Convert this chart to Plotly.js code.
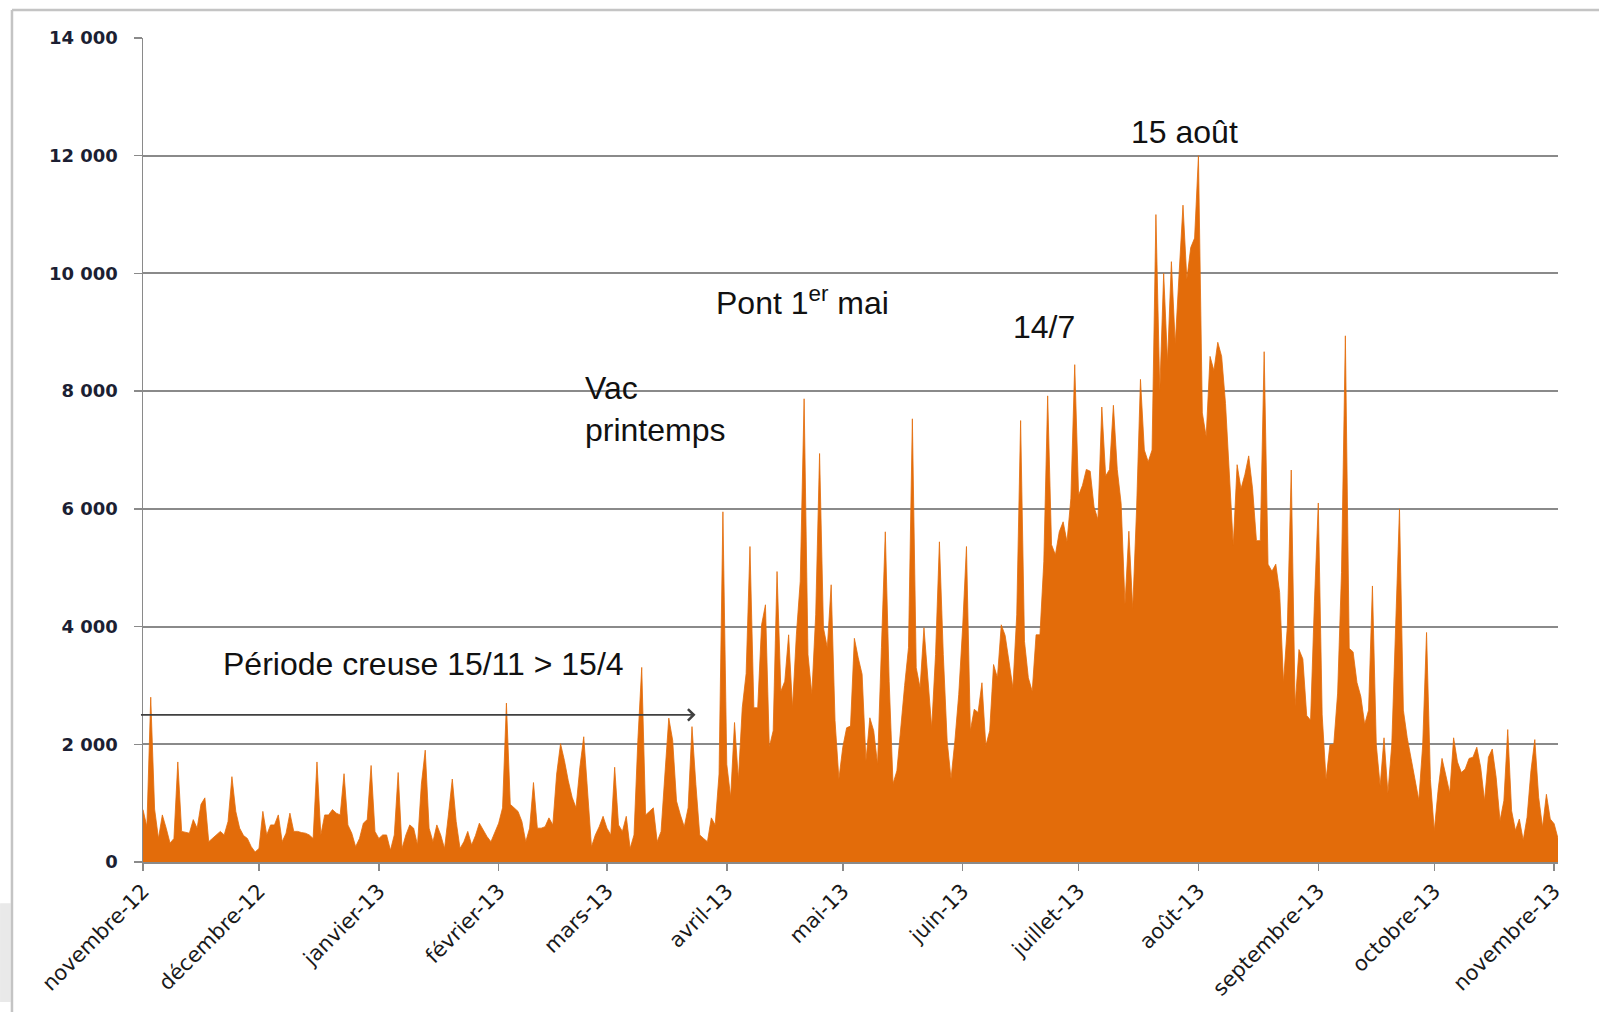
<!DOCTYPE html>
<html>
<head>
<meta charset="utf-8">
<script src="https://cdn.plot.ly/plotly-3.0.1.min.js"></script>
<style>
  html, body { margin: 0; padding: 0; background: #ffffff; }
  #chart { width: 1599px; height: 1012px; }
</style>
</head>
<body>
<div id="chart"></div>
<script>
// Daily values, one array per month
const nov12 = [890, 600, 2800, 900, 400, 800, 575, 320, 400, 1700, 520, 500, 490, 720, 575, 980, 1090, 345, 400, 450, 520, 460, 690, 1450, 860, 575, 450, 400, 260, 170];
const dec12 = [230, 860, 460, 630, 630, 800, 345, 490, 830, 520, 520, 500, 490, 460, 400, 1700, 460, 800, 800, 890, 830, 800, 1500, 630, 490, 260, 400, 660, 720, 1640, 520];
const jan13 = [400, 460, 460, 200, 460, 1520, 230, 460, 630, 575, 290, 1320, 1900, 575, 345, 630, 460, 230, 800, 1410, 690, 230, 345, 520, 290, 450, 660, 545, 430, 345, 500];
const feb13 = [660, 920, 2700, 980, 920, 860, 690, 345, 575, 1350, 575, 575, 600, 750, 630, 1495, 2010, 1725, 1380, 1100, 920, 1610, 2128, 1208, 260, 460, 600, 776];
const mar13 = [575, 460, 1610, 630, 520, 776, 230, 460, 2070, 3306, 800, 860, 920, 345, 520, 1495, 2444, 2070, 1035, 800, 600, 920, 2300, 1320, 460, 400, 345, 750, 630, 1495, 5950];
const apr13 = [1660, 1100, 2370, 1400, 2620, 3200, 5360, 2620, 2620, 4030, 4370, 1950, 2230, 4935, 2900, 3070, 3860, 2620, 3860, 4770, 7870, 3525, 2850, 4200, 6940, 3980, 3640, 4710, 2400, 1410];
const may13 = [1950, 2280, 2310, 3800, 3470, 3190, 1720, 2450, 2230, 1660, 3640, 5610, 3070, 1330, 1550, 2340, 3000, 3640, 7530, 3300, 2960, 3980, 3070, 2280, 3525, 5440, 3525, 2060, 1410, 2060, 2850];
const jun13 = [3980, 5360, 2230, 2595, 2540, 3045, 1975, 2230, 3355, 3130, 4030, 3850, 3400, 2960, 4200, 7500, 3750, 3130, 2900, 3860, 3860, 5100, 7920, 5390, 5220, 5610, 5780, 5440, 6180, 8450];
const jul13 = [6230, 6400, 6670, 6640, 6030, 5820, 7730, 6560, 6670, 7760, 6670, 6090, 4380, 5620, 4300, 6000, 8200, 7000, 6800, 7000, 11000, 8000, 10000, 8500, 10200, 8800, 10000, 11160, 9900, 10440, 10600];
const aug13 = [12000, 7630, 7230, 8590, 8350, 8830, 8590, 7790, 6660, 5380, 6750, 6340, 6580, 6900, 6340, 5460, 5460, 8670, 5060, 4940, 5060, 4580, 3050, 4015, 6660, 2650, 3610, 3450, 2490, 2410, 4420];
const sep13 = [6100, 2500, 1400, 1990, 2000, 2870, 4920, 8940, 3630, 3570, 3050, 2810, 2340, 2580, 4690, 1990, 1290, 2110, 1170, 1990, 4040, 6000, 2580, 2110, 1760, 1400, 1050, 1990, 3900, 1400];
const oct13 = [530, 1230, 1760, 1470, 1170, 2110, 1700, 1520, 1580, 1760, 1780, 1950, 1610, 1040, 1780, 1920, 1440, 700, 1040, 2250, 870, 535, 730, 370, 760, 1550, 2080, 1100, 590, 1150, 730];
const nov13 = [650, 400];

const startDate = '2012-11-01';
const tickDates = ['2012-11-01','2012-12-01','2013-01-01','2013-02-01','2013-03-01','2013-04-01','2013-05-01','2013-06-01','2013-07-01','2013-08-01','2013-09-01','2013-10-01','2013-11-01'];
const tickLabels = ['novembre-12','décembre-12','janvier-13','février-13','mars-13','avril-13','mai-13','juin-13','juillet-13','août-13','septembre-13','octobre-13','novembre-13'];

const values = [].concat(nov12, dec12, jan13, feb13, mar13, apr13, may13, jun13, jul13, aug13, sep13, oct13, nov13);
const t0 = Date.parse(startDate + 'T00:00:00Z');
const dates = values.map((_, i) => new Date(t0 + i * 86400000).toISOString().slice(0, 10));

const orange = '#E36C0A';
const annFont = { family: 'Liberation Sans, Arial, sans-serif', size: 32, color: '#111111' };

const trace = {
  x: dates, y: values, type: 'scatter', mode: 'lines',
  fill: 'tozeroy', fillcolor: orange,
  line: { color: orange, width: 0.8 },
  hoverinfo: 'x+y'
};

const layout = {
  width: 1599, height: 1012,
  margin: { l: 143, r: 41, t: 38, b: 150 },
  paper_bgcolor: '#ffffff', plot_bgcolor: '#ffffff',
  separators: ', ',
  showlegend: false,
  xaxis: {
    type: 'date',
    range: [dates[0], dates[dates.length - 1]],
    tickmode: 'array', tickvals: tickDates, ticktext: tickLabels,
    tickangle: -45,
    tickfont: { family: 'DejaVu Sans, sans-serif', size: 21, color: '#1a1a1a' },
    ticks: 'outside', ticklen: 7, tickwidth: 1.5, tickcolor: '#8a8a8a',
    showline: true, linecolor: '#8a8a8a', linewidth: 1.5,
    showgrid: false, zeroline: false
  },
  yaxis: {
    range: [0, 14000], dtick: 2000, tick0: 0,
    tickformat: ',d',
    tickfont: { family: 'DejaVu Sans, sans-serif', size: 18, color: '#1c1f33', weight: 'bold' },
    ticklabelstandoff: 12,
    ticks: 'outside', ticklen: 8, tickwidth: 1.5, tickcolor: '#8a8a8a',
    showline: true, linecolor: '#8a8a8a', linewidth: 1.5,
    showgrid: true, gridcolor: '#8a8a8a', gridwidth: 2,
    zeroline: false
  },
  shapes: [
    { type: 'rect', xref: 'paper', yref: 'paper', x0: -0.101, x1: -0.0935, y0: -0.05, y1: -0.17,
      fillcolor: '#e9e9e9', line: { width: 0 }, layer: 'below' },
    { type: 'line', xref: 'paper', yref: 'paper', x0: -0.0926, x1: 1.03, y0: 1.034, y1: 1.034,
      line: { color: '#c4c4c4', width: 2.5 } },
    { type: 'line', xref: 'paper', yref: 'paper', x0: -0.0926, x1: -0.0926, y0: 1.034, y1: -0.19,
      line: { color: '#c4c4c4', width: 2.5 } }
  ],
  annotations: [
    { x: '2012-11-21 07:00', y: 3362, xref: 'x', yref: 'y', text: 'Période creuse 15/11 > 15/4',
      showarrow: false, xanchor: 'left', yanchor: 'middle', font: annFont },
    { x: '2013-03-23 22:00', y: 2500, xref: 'x', yref: 'y', ax: '2012-10-31 02:00', ay: 2500,
      axref: 'x', ayref: 'y', text: '', showarrow: true, arrowhead: 4, arrowsize: 1.4,
      arrowwidth: 1.6, arrowcolor: '#404040', standoff: 0 },
    { x: '2013-02-22 19:00', y: 7690, xref: 'x', yref: 'y', text: 'Vac<br>printemps',
      showarrow: false, xanchor: 'left', yanchor: 'middle', align: 'left', font: annFont },
    { x: '2013-03-28 17:00', y: 9525, xref: 'x', yref: 'y', text: 'Pont 1<sup>er</sup> mai',
      showarrow: false, xanchor: 'left', yanchor: 'middle', font: annFont },
    { x: '2013-06-13 14:00', y: 9083, xref: 'x', yref: 'y', text: '14/7',
      showarrow: false, xanchor: 'left', yanchor: 'middle', font: annFont },
    { x: '2013-07-13 22:00', y: 12411, xref: 'x', yref: 'y', text: '15 août',
      showarrow: false, xanchor: 'left', yanchor: 'middle', font: annFont }
  ]
};

Plotly.newPlot('chart', [trace], layout, { displayModeBar: false, staticPlot: true });
</script>
</body>
</html>
